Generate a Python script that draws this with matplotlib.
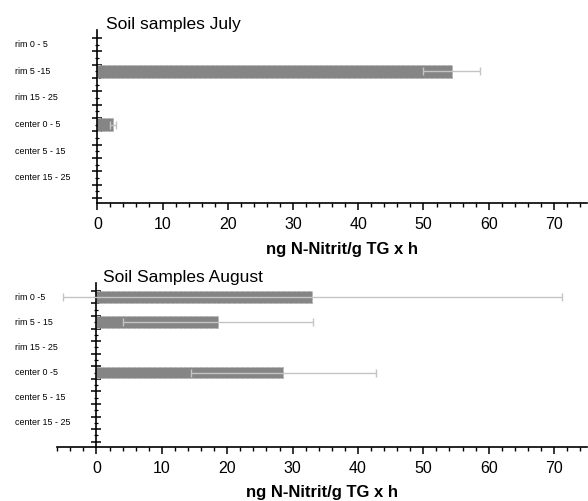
import numpy as np
import matplotlib
matplotlib.use('Agg')
import matplotlib.pyplot as plt
from matplotlib.ticker import MultipleLocator, FixedLocator, NullFormatter
from matplotlib.transforms import blended_transform_factory

# ── Data ───────────────────────────────────────────────────────────────────────
CATS_JULY = ['rim 0 - 5', 'rim 5 -15', 'rim 15 - 25',
             'center 0 - 5', 'center 5 - 15', 'center 15 - 25']
CATS_AUG = ['rim 0 -5', 'rim 5 - 15', 'rim 15 - 25',
            'center 0 -5', 'center 5 - 15', 'center 15 - 25']

july_mean = [np.nan, 54.3, np.nan, 2.4, np.nan, np.nan]
july_sd = [np.nan, 4.4, np.nan, 0.5, np.nan, np.nan]
aug_mean = [33.0, 18.6, np.nan, 28.6, np.nan, np.nan]
aug_sd = [38.2, 14.5, np.nan, 14.1, np.nan, np.nan]

XLABEL = 'ng N-Nitrit/g TG x h'

# ── Style ──────────────────────────────────────────────────────────────────────
plt.rcParams['font.family'] = ['Liberation Sans', 'DejaVu Sans']
BAR_COLOR = '#858585'
ERR_COLOR = '#c4c4c4'
TICK_FONT = ['Liberation Sans Narrow', 'Liberation Sans', 'DejaVu Sans']

fig = plt.figure(figsize=(5.88, 5.01), dpi=100)


def draw_panel(ax, cats, mean, sd, xmin, title, title_xy):
    y = np.arange(len(cats))
    mean = np.asarray(mean, dtype=float)
    sd = np.asarray(sd, dtype=float)
    ok = ~np.isnan(mean)

    ax.barh(y[ok], mean[ok], height=0.47, color=BAR_COLOR,
            edgecolor='#b5b5b5', linestyle='--', linewidth=0.7, zorder=2)
    ax.errorbar(mean[ok], y[ok], xerr=sd[ok], fmt='none', ecolor=ERR_COLOR,
                elinewidth=1.0, capsize=3, capthick=1.0, zorder=3)

    ax.set_xlim(xmin, 75)
    ax.set_ylim(5.95, -0.55)

    for s in ('top', 'right'):
        ax.spines[s].set_visible(False)
    ax.spines['left'].set_position(('data', 0))
    ax.spines['left'].set_linewidth(1.2)
    ax.spines['bottom'].set_linewidth(1.2)

    # x ticks: major every 10, minor every 2, outward
    ax.xaxis.set_major_locator(FixedLocator(np.arange(0, 71, 10)))
    ax.xaxis.set_minor_locator(MultipleLocator(2))
    ax.tick_params(axis='x', which='major', direction='out', length=5,
                   width=1.1, pad=5, labelsize=11.5)
    ax.tick_params(axis='x', which='minor', direction='out', length=3, width=1.0)
    for lab in ax.get_xticklabels():
        lab.set_family(TICK_FONT)

    # y ticks: crossing ticks between and on the bars, no labels
    ax.yaxis.set_major_locator(FixedLocator(np.arange(-0.25, 5.8, 0.5)))
    ax.yaxis.set_minor_locator(FixedLocator(np.arange(0, 5.6, 0.5)))
    ax.yaxis.set_major_formatter(NullFormatter())
    ax.tick_params(axis='y', which='major', direction='inout', length=7, width=1.1)
    ax.tick_params(axis='y', which='minor', direction='inout', length=3.5, width=0.9)

    trans = blended_transform_factory(fig.transFigure, ax.transData)
    for yi, name in zip(y, cats):
        ax.text(15 / 588, yi, name, transform=trans, ha='left', va='center',
                fontsize=6.4)

    ax.set_xlabel(XLABEL, fontsize=12, fontweight='bold', labelpad=7)
    fig.text(title_xy[0], title_xy[1], title, fontsize=12.5, ha='left', va='top')


# ── Panels ─────────────────────────────────────────────────────────────────────
ax1 = fig.add_axes([0.1655, 0.5942, 0.832, 0.3459])
draw_panel(ax1, CATS_JULY, july_mean, july_sd, 0, 'Soil samples July',
           (106 / 588, 1 - 17 / 501))

ax2 = fig.add_axes([0.0974, 0.1084, 0.9005, 0.3261])
draw_panel(ax2, CATS_AUG, aug_mean, aug_sd, -6, 'Soil Samples August',
           (103 / 588, 1 - 270 / 501))

fig.savefig('out.png', dpi=100)
